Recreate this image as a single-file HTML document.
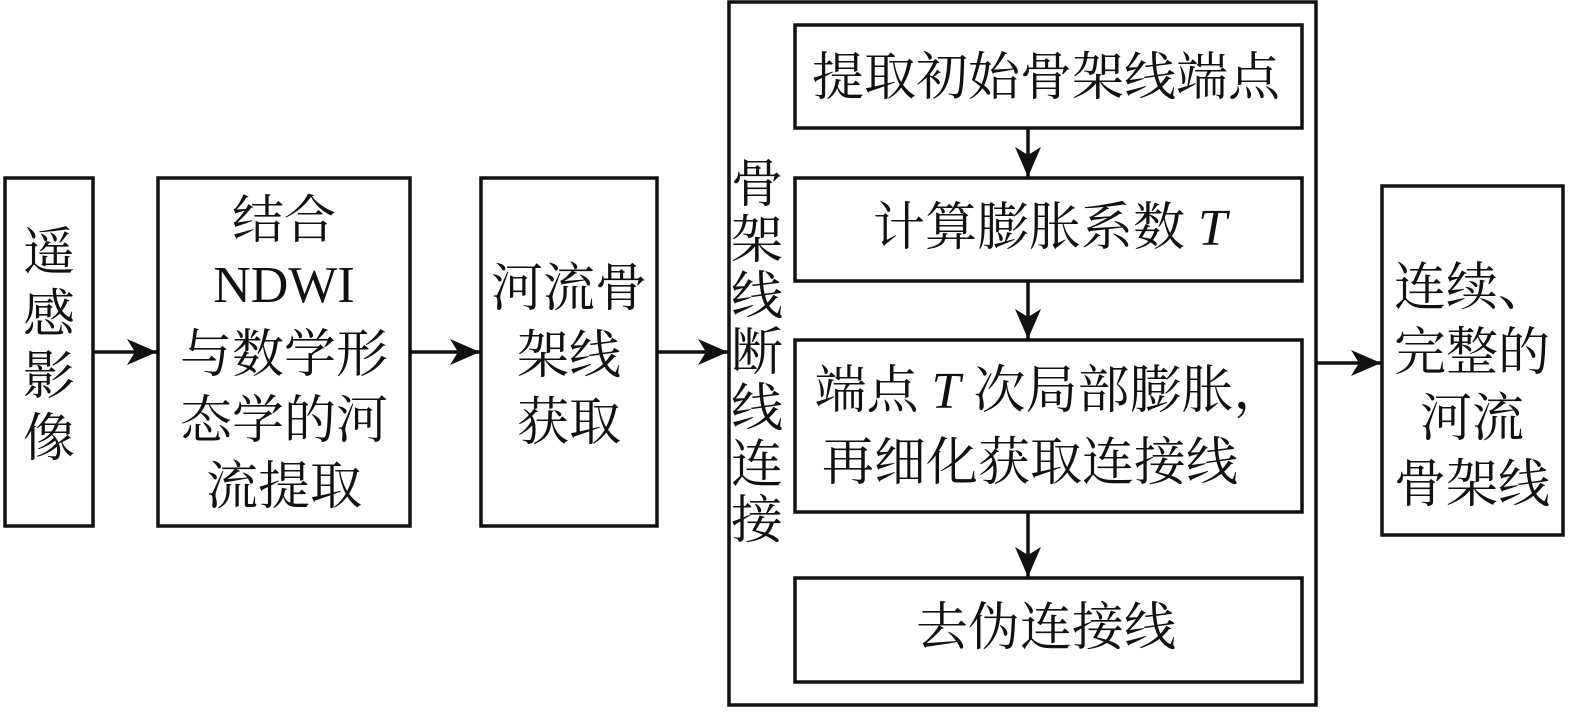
<!DOCTYPE html>
<html><head><meta charset="utf-8"><style>
html,body{margin:0;padding:0;background:#fff}
text{font-family:"Liberation Serif","Noto Serif CJK SC",serif;font-size:52px;fill:#111}
</style></head><body>
<svg width="1575" height="709" viewBox="0 0 1575 709" xmlns="http://www.w3.org/2000/svg">
<defs><marker id="a" viewBox="0 0 30 26" refX="30" refY="13" markerWidth="30" markerHeight="26" markerUnits="userSpaceOnUse" orient="auto"><path d="M0,0 L30,13 L0,26 L8,13 Z" fill="#111"/></marker></defs>
<g fill="none" stroke="#111" stroke-width="3.5">
<rect x="5" y="178" width="88" height="348"/>
<rect x="158" y="178" width="252" height="348"/>
<rect x="481" y="178" width="176" height="348"/>
<rect x="729" y="2" width="587" height="703"/>
<rect x="795" y="25" width="507" height="103"/>
<rect x="795" y="178" width="507" height="103"/>
<rect x="795" y="340" width="507" height="172"/>
<rect x="795" y="578" width="507" height="104"/>
<rect x="1382" y="186" width="181" height="349"/>
<line x1="93" y1="352" x2="157" y2="352" marker-end="url(#a)"/>
<line x1="410" y1="352" x2="480" y2="352" marker-end="url(#a)"/>
<line x1="657" y1="352" x2="728" y2="352" marker-end="url(#a)"/>
<line x1="1316" y1="363" x2="1381" y2="363" marker-end="url(#a)"/>
<line x1="1028" y1="128" x2="1028" y2="177" marker-end="url(#a)"/>
<line x1="1028" y1="281" x2="1028" y2="339" marker-end="url(#a)"/>
<line x1="1028" y1="512" x2="1028" y2="577" marker-end="url(#a)"/>
</g>
<g text-anchor="middle">
<text x="49" y="270">遥</text><text x="49" y="332">感</text><text x="49" y="394">影</text><text x="49" y="456">像</text>
<text x="284" y="238">结合</text>
<text x="284" y="302">NDWI</text>
<text x="284" y="372">与数学形</text>
<text x="284" y="438">态学的河</text>
<text x="284" y="504">流提取</text>
<text x="569" y="306">河流骨</text>
<text x="569" y="373">架线</text>
<text x="569" y="440">获取</text>
<text x="757" y="202">骨</text><text x="757" y="258">架</text><text x="757" y="314">线</text><text x="757" y="370">断</text><text x="757" y="426">线</text><text x="757" y="482">连</text><text x="757" y="538">接</text>
<text x="1046" y="95">提取初始骨架线端点</text>
<text x="1050" y="245">计算膨胀系数 <tspan font-style="italic">T</tspan></text>
<text x="1050" y="408">端点 <tspan font-style="italic">T</tspan> 次局部膨胀，</text>
<text x="1030" y="480">再细化获取连接线</text>
<text x="1046" y="645">去伪连接线</text>
<text x="1472" y="305">连续、</text>
<text x="1472" y="370">完整的</text>
<text x="1472" y="436">河流</text>
<text x="1472" y="502">骨架线</text>
</g>
</svg>
</body></html>
